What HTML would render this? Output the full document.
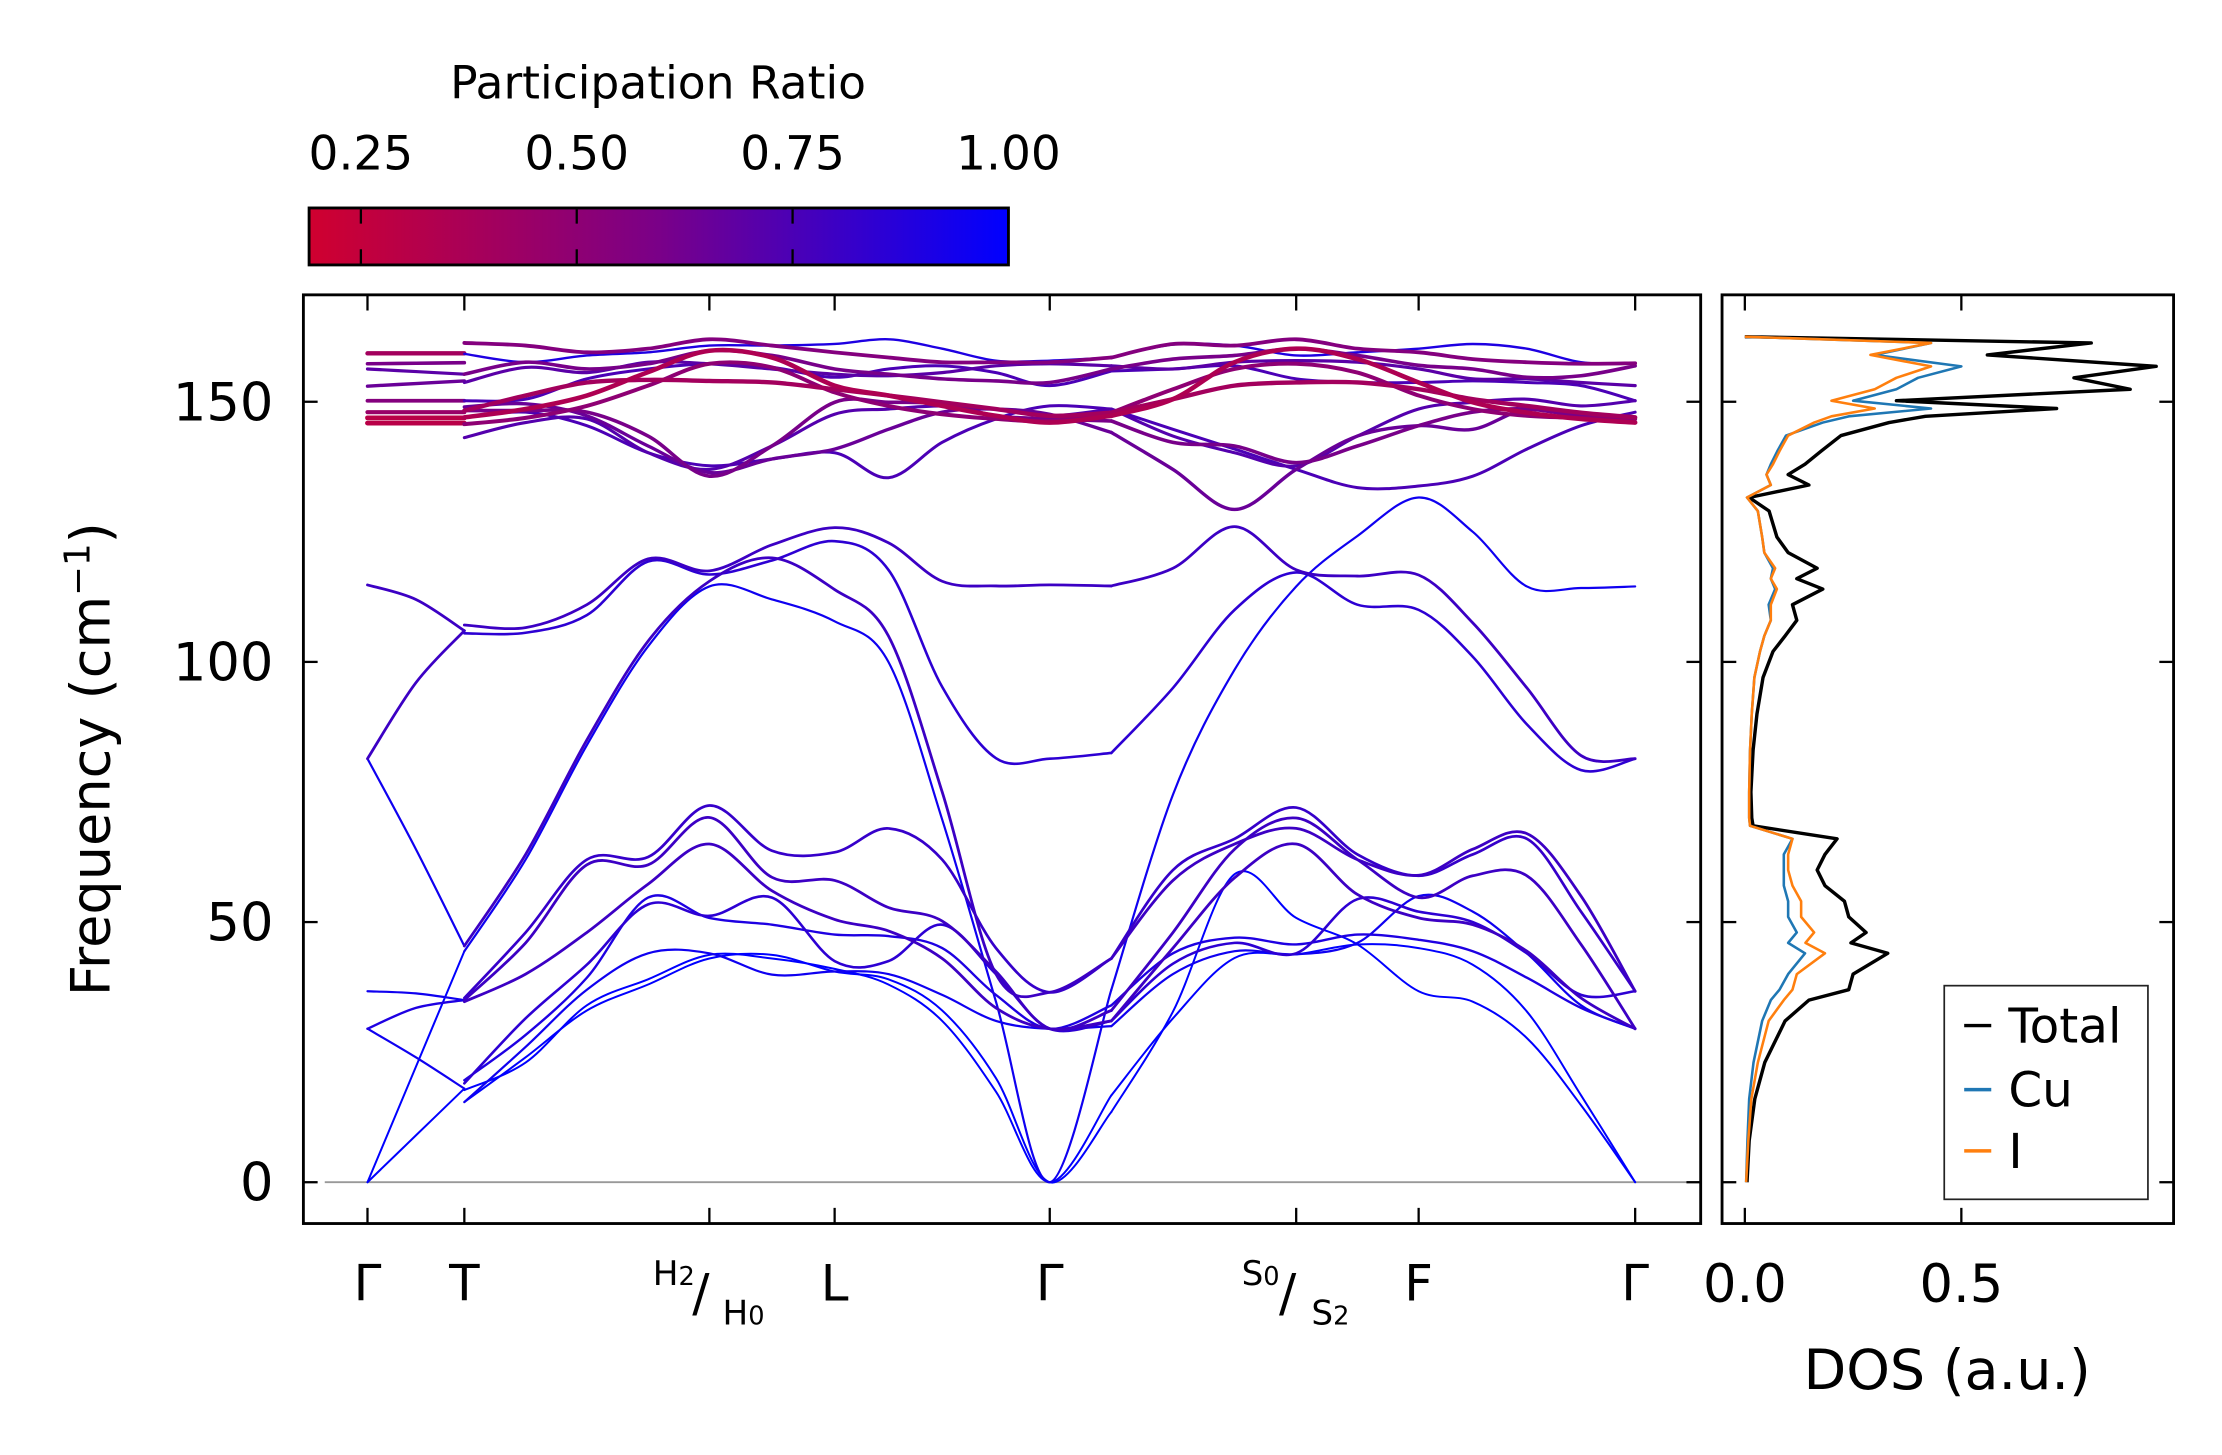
<!DOCTYPE html>
<html><head><meta charset="utf-8"><style>
html,body{margin:0;padding:0;background:#fff;}
svg{display:block;font-family:"DejaVu Sans","Liberation Sans",sans-serif;}
</style></head><body>
<svg id="fig" width="2222" height="1455" viewBox="0 0 1560 1021.5" xmlns="http://www.w3.org/2000/svg">
<defs>
<linearGradient id="cmap" x1="0" x2="1" y1="0" y2="0">
<stop offset="0" stop-color="#d0002f"/><stop offset="0.5" stop-color="#7a0088"/><stop offset="1" stop-color="#0000ff"/>
</linearGradient>
<clipPath id="bandclip"><rect x="213" y="207" width="981" height="652"/></clipPath>
<clipPath id="dosclip"><rect x="1209" y="207" width="317" height="652"/></clipPath>
</defs>
<g>
<text x="462" y="69" font-size="32" text-anchor="middle">Participation Ratio</text>
<rect x="217" y="146" width="491" height="40" fill="url(#cmap)" stroke="#000" stroke-width="2"/>
<g id="cbticks"></g>
</g>
<g id="bandax"></g>
<g id="dosax"></g>
<text transform="translate(77,533) rotate(-90)" font-size="38" text-anchor="middle">Frequency (cm<tspan dy="-14" font-size="25">−1</tspan><tspan dy="14">)</tspan></text>
<text x="1367" y="975" font-size="39" text-anchor="middle">DOS (a.u.)</text>
</svg>
<script>
// ---------- data ----------
const cbTicks = [0.25, 0.50, 0.75, 1.00];
const cbMin = 0.19, cbMax = 1.0;
const yTicks = [0, 50, 100, 150];
const kTicks = [0, 0.0764, 0.2697, 0.3685, 0.5382, 0.7326, 0.8292, 1.0];
const kLabels = ["Γ","T","H","L","Γ","S","F","Γ"];
const segSubdiv = [4, 2, 4, 4, 2, 4];
// Γ–T segment bands (Γ, mid, T)
const gtBands = [[0,22.2,44.4],[0,9,18],[29.5,24,18],[29.5,33.5,35],[36.7,36.3,35],[81.4,64,45.4],[81.4,96,106],[114.8,112,106],
 [159.3,159.3,159.3],[157.3,157.4,157.5],[156.3,155.8,155.3],[153,153.5,154],[150.2,150.2,150.2],[148,148,148],[146.9,146.9,146.9],[145.9,145.9,145.9]];
const gtPR = [1,1,0.95,0.9,0.95,0.95,0.8,0.8,0.4,0.6,0.7,0.65,0.55,0.45,0.3,0.3];
// T → H → L → Γ → S → F → Γ bands (21 samples)
const bands = [
 [15.4,24,33,38,43,43.7,40.5,39,33,20,0,13.5,32.8,59.2,50.8,45.7,36.7,34.7,27.7,14.8,0],
 [17.7,23,34,39,43.7,43,41,38,31,17.4,0,16.7,31.5,43.1,43.8,45.7,45,41.8,32.8,16.7,0],
 [35.4,48,62,62.5,72.4,63.7,63.4,68,62,45,36.5,43,60,66,72,63,58.9,63,66,52,36.7],
 [35,46,61,61,70.1,58.6,58,52.8,50.2,40.5,29.5,33,48,64,70,62,54.7,58.9,58.9,45.7,29.5],
 [34.7,40,48,57.3,65,56,50.5,48.3,43,33.5,29.5,31,45,58.5,65,55.3,50.8,49.5,44.4,35.4,29.5],
 [19.6,28.3,39.3,54.7,50.8,49.5,47.6,47.3,45,36,29.5,34,44,47,45.7,47.6,46.6,44.4,39.3,33.5,29.5],
 [19,31.5,41.8,53.4,51.2,54.7,42.5,42.5,49.5,40,29.5,31,42,46,44,54.4,52,50,44,36,36.7],
 [15.4,26,37,44,44,39.9,40.5,40,36,31,29.5,30,40,44.4,43.8,46,55,52,44,34,29.5],
 [107.1,106.6,111,119.8,117.5,122.5,125.8,122.9,115.5,114.6,114.8,114.6,118,126,117.7,116.5,116.7,107.5,95,82,81.4],
 [105.5,105.6,109,119.3,116.8,119.5,123.2,117.7,95.2,81.5,81.4,82.5,95,110,117.2,111,110,101,88,79.2,81.4],
 [44.4,62,84,103,114.5,112,107.8,100,69.7,34.7,0,37,74.5,98.5,114.5,124.2,131.6,125,114.5,114.2,114.5],
 [45.4,63,85,104,115.5,120,113.9,105,75,40,36.5,43,58,65,68,62,59,64,67,55,36.7],
 [161.3,160.8,159.5,160.2,162,160.8,159.5,158.5,157.6,157.6,157.6,158.5,161.1,160.8,162,160.2,159.5,158.2,157.6,157.3,157.4],
 [159.2,157.6,158.9,159.5,160.8,160.8,161.1,162,160.2,157.9,157.9,158.5,161,160.8,158.9,159.5,160.2,161.1,160.2,157.6,157.3],
 [155.3,157.6,156.3,157.3,159.8,158.9,156.3,155.3,154.4,154,153.7,156.3,158.2,158.9,160.2,158.9,157,156.3,154.7,155,156.9],
 [153.7,156.6,155.6,157.6,157.3,156.3,155.3,155,155.6,156.9,157.3,156.9,156.3,157.6,157.9,157.6,156.3,154.4,154.4,153.7,153.1],
 [150.2,150.5,154.4,156.3,157.3,156.6,154.7,156.3,156.9,155.6,153.1,155.9,156.3,156.9,154.4,153.7,153.7,154,153.7,153.1,150.2],
 [148.3,151.2,153.7,154.2,154,153.7,152.4,151.2,149.9,148.6,147.3,147.9,150.5,153.1,153.7,153.7,152.4,150.5,149.2,147.9,147],
 [147,148.6,151.2,155.7,159.8,158.5,153.1,151.2,149.2,147.3,146,147.3,150.5,157.6,160.2,158.2,153.7,149.9,147.9,146.7,146],
 [145.7,146.9,149.2,153.1,157.3,156.6,151.8,149.2,147.6,146.7,146.3,147.9,152.4,156.3,157.3,155.6,151.2,148.6,147.3,146.9,146.7],
 [143.1,146,146.7,140.2,137,141.5,147.6,148.6,149.2,148.6,147.3,148.6,143.4,140.2,137.7,143.4,148.6,149.9,150.5,149.2,150.2],
 [148.3,148.3,148,143.4,135.7,141.5,149.9,149.9,149.6,147.3,146.7,146.3,142.2,141.5,138.3,141.5,145.4,148,148.6,147.3,147],
 [147,148,145.4,140.2,137.7,139,140.2,135.4,142.2,146.7,149.2,148.6,144.7,140.9,137,133.5,133.8,135.7,140.9,145.4,148],
 [149,149.6,147.3,141.5,136.4,139,140.9,144.7,148,148.6,147.6,144.1,137,129.3,137,143.4,145.4,144.7,148.6,147.3,146.7]
];
const bandPR = [1,1,0.82,0.8,0.8,0.9,0.85,0.95,0.8,0.85,0.95,0.8,0.55,0.9,0.6,0.7,0.75,0.4,0.35,0.5,0.72,0.6,0.75,0.65];
// DOS
const dosFreq = [0,8,16,23,31,35,37,40,44,46,48,51,54,57,60,63,66,68.5,70,75,83,90,97,102,105,108,111,114,116,118,121,124,129,131.6,134,136,138,140.5,143.5,146,147.2,148.7,150.2,152.4,154.6,156.8,159,161.3,162.5];
const dosTotal = [0.005,0.01,0.023,0.046,0.093,0.148,0.24,0.25,0.33,0.245,0.28,0.24,0.23,0.185,0.167,0.185,0.213,0.019,0.016,0.014,0.019,0.028,0.042,0.065,0.093,0.12,0.11,0.18,0.12,0.167,0.1,0.074,0.056,0.01,0.148,0.1,0.139,0.176,0.222,0.333,0.417,0.72,0.35,0.89,0.76,0.95,0.56,0.8,0];
const dosCu = [0.003,0.006,0.01,0.02,0.04,0.06,0.08,0.1,0.139,0.1,0.12,0.1,0.1,0.09,0.09,0.09,0.11,0.012,0.01,0.01,0.012,0.016,0.022,0.035,0.045,0.06,0.055,0.07,0.06,0.065,0.045,0.04,0.03,0.005,0.06,0.05,0.06,0.075,0.095,0.18,0.24,0.43,0.25,0.35,0.4,0.5,0.3,0.43,0];
const dosI = [0.003,0.008,0.015,0.03,0.055,0.09,0.11,0.12,0.185,0.14,0.16,0.13,0.13,0.11,0.1,0.1,0.11,0.012,0.01,0.01,0.012,0.016,0.022,0.035,0.045,0.06,0.06,0.074,0.06,0.07,0.045,0.04,0.03,0.005,0.06,0.05,0.065,0.08,0.1,0.16,0.2,0.3,0.2,0.3,0.35,0.43,0.29,0.43,0];
const dosTicks = [0.0, 0.5];

// ---------- scales ----------
const NS = "http://www.w3.org/2000/svg";
const PX0 = 258, PX1 = 1148, F0Y = 830, FPX = 3.653;
const xK = k => PX0 + k * (PX1 - PX0);
const yF = f => F0Y - f * FPX;
const xD = d => 1225 + d * 304;
const xCB = v => 217 + (v - cbMin) / (cbMax - cbMin) * 491;
function mk(tag, attrs, parent) { const e = document.createElementNS(NS, tag); for (const a in attrs) e.setAttribute(a, attrs[a]); parent.appendChild(e); return e; }
function prColor(p) {
  const t = Math.max(0, Math.min(1, (p - cbMin) / (cbMax - cbMin)));
  let r, b;
  if (t < 0.5) { const u = t / 0.5; r = 208 + (122 - 208) * u; b = 47 + (136 - 47) * u; }
  else { const u = (t - 0.5) / 0.5; r = 122 * (1 - u); b = 136 + (255 - 136) * u; }
  return `rgb(${Math.round(r)},0,${Math.round(b)})`;
}
function smoothPath(pts) {
  let d = `M${pts[0][0].toFixed(2)},${pts[0][1].toFixed(2)}`;
  for (let i = 0; i < pts.length - 1; i++) {
    const p0 = pts[Math.max(0, i - 1)], p1 = pts[i], p2 = pts[i + 1], p3 = pts[Math.min(pts.length - 1, i + 2)];
    const c1 = [p1[0] + (p2[0] - p0[0]) / 6, p1[1] + (p2[1] - p0[1]) / 6];
    const c2 = [p2[0] - (p3[0] - p1[0]) / 6, p2[1] - (p3[1] - p1[1]) / 6];
    d += `C${c1[0].toFixed(2)},${c1[1].toFixed(2)} ${c2[0].toFixed(2)},${c2[1].toFixed(2)} ${p2[0].toFixed(2)},${p2[1].toFixed(2)}`;
  }
  return d;
}
const kGrid = [kTicks[1]];
for (let s = 0; s < segSubdiv.length; s++) {
  const a = kTicks[s + 1], b = kTicks[s + 2];
  for (let j = 1; j <= segSubdiv[s]; j++) kGrid.push(a + (b - a) * j / segSubdiv[s]);
}
const gammaIdx = 1 + segSubdiv[0] + segSubdiv[1] + segSubdiv[2];

// ---------- colorbar ticks ----------
const cbt = document.getElementById('cbticks');
cbTicks.forEach(v => {
  const x = xCB(v);
  const t1 = mk('line', {x1: x, x2: x, y1: 147, y2: 157, stroke: '#000', 'stroke-width': 1.6}, cbt);
  
  
  mk('line', {x1: x, x2: x, y1: 175, y2: 185, stroke: '#000', 'stroke-width': 1.6}, cbt);
  const lb = mk('text', {x: x, y: 119, 'font-size': 33, 'text-anchor': 'middle'}, cbt);
  
  
  lb.textContent = v.toFixed(2);
});

// ---------- band axes ----------
const ba = document.getElementById('bandax');
const zl = mk('line', {x1: 228, x2: 1194, y1: yF(0), y2: yF(0), stroke: '#999', 'stroke-width': 1.3}, ba);


const bg = mk('g', {'clip-path': 'url(#bandclip)', 'stroke-linecap': 'round', fill: 'none'}, ba);


function drawBand(pts, pr, name) {
  const p = mk('path', {d: smoothPath(pts), stroke: prColor(pr), 'stroke-width': (1.4 + (1 - pr) * 2.8).toFixed(2), fill: 'none'}, bg);
  
  
}
const gtK = [kTicks[0], (kTicks[0] + kTicks[1]) / 2, kTicks[1]];
gtBands.forEach((b, i) => drawBand(b.map((f, j) => [xK(gtK[j]), yF(f)]), gtPR[i], 'band-gamma-t'));
const order = bands.map((b, i) => i).sort((a, b) => bandPR[b] - bandPR[a]);
order.forEach(i => {
  const b = bands[i];
  const pts = b.map((f, j) => [xK(kGrid[j]), yF(f)]);
  drawBand(pts.slice(0, gammaIdx + 1), bandPR[i], 'phonon-band');
  drawBand(pts.slice(gammaIdx), bandPR[i], 'phonon-band');
});
const fr = mk('rect', {x: 213, y: 207, width: 981, height: 652, fill: 'none', stroke: '#000', 'stroke-width': 2}, ba);


yTicks.forEach(v => {
  const y = yF(v);
  mk('line', {x1: 213, x2: 223, y1: y, y2: y, stroke: '#000', 'stroke-width': 1.6}, ba);
  mk('line', {x1: 1184, x2: 1194, y1: y, y2: y, stroke: '#000', 'stroke-width': 1.6}, ba);
  const t = mk('text', {x: 192, y: y + 13, 'font-size': 37, 'text-anchor': 'end'}, ba);
  
  
  t.textContent = String(v);
});
kTicks.forEach((k, i) => {
  const x = xK(k);
  mk('line', {x1: x, x2: x, y1: 207, y2: 218, stroke: '#000', 'stroke-width': 1.6}, ba);
  mk('line', {x1: x, x2: x, y1: 848, y2: 859, stroke: '#000', 'stroke-width': 1.6}, ba);
  const t = mk('text', {x: x, y: 913, 'font-size': 35, 'text-anchor': 'middle'}, ba);
  
  
  if (kLabels[i] === 'H' || kLabels[i] === 'S') {
    const L = kLabels[i];
    const a = L === 'H' ? ['2', '0'] : ['0', '2'];
    t.setAttribute('font-size', 24);
    t.innerHTML = `<tspan x="${x - 25}" y="902">${L}<tspan font-size="18">${a[0]}</tspan></tspan><tspan font-size="36" x="${x - 6}" y="920">/</tspan><tspan x="${x + 24}" y="930">${L}<tspan font-size="18">${a[1]}</tspan></tspan>`;
  } else t.textContent = kLabels[i];
});

// ---------- DOS axes ----------
const da = document.getElementById('dosax');
const dg = mk('g', {'clip-path': 'url(#dosclip)', fill: 'none', 'stroke-linejoin': 'round'}, da);
function dosLine(arr, color, w, name) {
  const pts = arr.map((d, i) => `${xD(d).toFixed(2)},${yF(dosFreq[i]).toFixed(2)}`).join(' ');
  const p = mk('polyline', {points: pts, stroke: color, 'stroke-width': w, fill: 'none'}, dg);
  
  
}
dosLine(dosTotal, '#000', 2.4, 'dos-total-line');
dosLine(dosCu, '#1f77b4', 1.8, 'dos-cu-line');
dosLine(dosI, '#ff7f0e', 1.8, 'dos-i-line');
const df = mk('rect', {x: 1209, y: 207, width: 317, height: 652, fill: 'none', stroke: '#000', 'stroke-width': 2}, da);


yTicks.forEach(v => {
  const y = yF(v);
  mk('line', {x1: 1209, x2: 1219, y1: y, y2: y, stroke: '#000', 'stroke-width': 1.6}, da);
  mk('line', {x1: 1516, x2: 1526, y1: y, y2: y, stroke: '#000', 'stroke-width': 1.6}, da);
});
dosTicks.forEach(v => {
  const x = xD(v);
  mk('line', {x1: x, x2: x, y1: 207, y2: 218, stroke: '#000', 'stroke-width': 1.6}, da);
  mk('line', {x1: x, x2: x, y1: 848, y2: 859, stroke: '#000', 'stroke-width': 1.6}, da);
  const t = mk('text', {x: x, y: 914, 'font-size': 37, 'text-anchor': 'middle'}, da);
  
  
  t.textContent = v.toFixed(1);
});
// legend
const lg = mk('g', {}, da);


mk('rect', {x: 1365, y: 692, width: 143, height: 150, fill: '#fff', stroke: '#222', 'stroke-width': 1.2}, lg);
[['Total', '#000', 720], ['Cu', '#1f77b4', 765], ['I', '#ff7f0e', 808]].forEach(e => {
  const l = mk('line', {x1: 1379, x2: 1398, y1: e[2], y2: e[2], stroke: e[1], 'stroke-width': 2.4}, lg);
  
  
  const t = mk('text', {x: 1410, y: e[2] + 12, 'font-size': 34}, lg);
  
  
  t.textContent = e[0];
});
</script>
</body></html>
